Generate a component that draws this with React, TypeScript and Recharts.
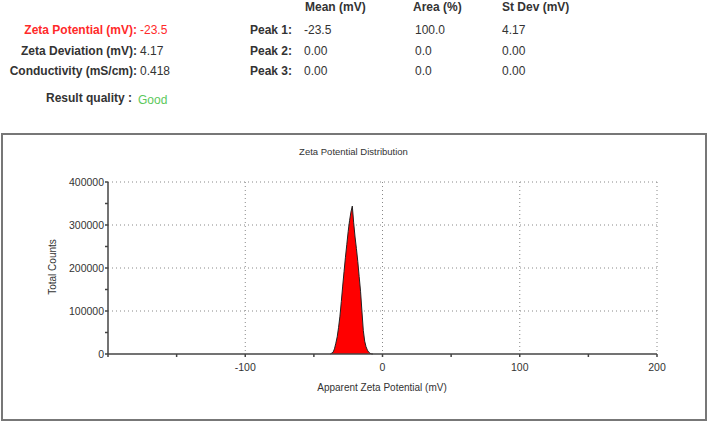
import React from 'react';
import { AreaChart, Area, XAxis, YAxis, CartesianGrid } from 'recharts';

// distribution of the single peak
const potentials = [-38, -36, -35, -34, -33, -32, -31, -30, -29, -28, -27, -26, -25, -24, -23, -22, -21, -20, -19, -18, -17, -16, -15, -14, -13, -12, -11, -10, -9, -8, -7];
const counts = [0, 4000, 12000, 25000, 40000, 62000, 88000, 122000, 158000, 192000, 225000, 255000, 285000, 310000, 330000, 344000, 305000, 272000, 245000, 215000, 180000, 146000, 100000, 55000, 30000, 17000, 9000, 4000, 1500, 300, 0];

const xTicks = [-200, -150, -100, -50, 0, 50, 100, 150, 200];
const xLabelled = [-100, 0, 100, 200];
const yTicks = [0, 50000, 100000, 150000, 200000, 250000, 300000, 350000, 400000];
const yLabelled = [0, 100000, 200000, 300000, 400000];

const summaryRows = [
  { label: 'Zeta Potential (mV):', value: '-23.5', color: '#ff2a2a' },
  { label: 'Zeta Deviation (mV):', value: '4.17', color: '#333' },
  { label: 'Conductivity (mS/cm):', value: '0.418', color: '#333' },
];
const peakNames = ['Peak 1:', 'Peak 2:', 'Peak 3:'];
const peakMeans = ['-23.5', '0.00', '0.00'];
const peakAreas = ['100.0', '0.0', '0.0'];
const peakStdevs = ['4.17', '0.00', '0.00'];

const data = potentials.map((p, i) => ({ p, c: counts[i] }));

const FONT = '"Liberation Sans", Arial, sans-serif';
const rowY = [30, 51, 71];

const txt = (s: React.CSSProperties): React.CSSProperties => ({
  position: 'absolute', fontFamily: FONT, fontSize: 12, lineHeight: '14px', whiteSpace: 'nowrap', ...s,
});

const App: React.FC = () => {
  return (
    <div style={{ position: 'absolute', left: 0, top: 0, width: 708, height: 422, background: '#fff', overflow: 'hidden' }}>
      {summaryRows.map((r, i) => (
        <React.Fragment key={r.label}>
          <div style={txt({ right: 708 - 137, top: rowY[i] - 7, fontWeight: 'bold', color: r.color })}>{r.label}</div>
          <div style={txt({ left: 140, top: rowY[i] - 7, color: r.color })}>{r.value}</div>
        </React.Fragment>
      ))}
      <div style={txt({ right: 708 - 132, top: 91, fontWeight: 'bold', color: '#333' })}>Result quality :</div>
      <div style={txt({ left: 138, top: 93, color: '#5cc85c' })}>Good</div>

      <div style={txt({ left: 305, top: 0, fontWeight: 'bold', color: '#333' })}>Mean (mV)</div>
      <div style={txt({ left: 413, top: 0, fontWeight: 'bold', color: '#333' })}>Area (%)</div>
      <div style={txt({ left: 502, top: 0, fontWeight: 'bold', color: '#333' })}>St Dev (mV)</div>
      {peakNames.map((n, i) => (
        <React.Fragment key={n}>
          <div style={txt({ left: 250, top: rowY[i] - 7, fontWeight: 'bold', color: '#333' })}>{n}</div>
          <div style={txt({ left: 304, top: rowY[i] - 7, color: '#333' })}>{peakMeans[i]}</div>
          <div style={txt({ left: 415, top: rowY[i] - 7, color: '#333' })}>{peakAreas[i]}</div>
          <div style={txt({ left: 502, top: rowY[i] - 7, color: '#333' })}>{peakStdevs[i]}</div>
        </React.Fragment>
      ))}

      {/* chart frame */}
      <div style={{ position: 'absolute', left: 1, top: 133, width: 706, height: 288, border: '2px solid #777', boxSizing: 'border-box' }} />
      <div style={txt({ left: 2, width: 703, top: 145, textAlign: 'center', fontSize: 9.5, color: '#333' })}>Zeta Potential Distribution</div>
      <div style={txt({ left: 382, top: 381, transform: 'translateX(-50%)', fontSize: 10, color: '#333' })}>Apparent Zeta Potential (mV)</div>
      <div style={txt({ left: 53, top: 267, transform: 'translate(-50%, -50%) rotate(-90deg)', fontSize: 10, color: '#333' })}>Total Counts</div>

      <div style={{ position: 'absolute', left: 0, top: 0 }}>
        <AreaChart width={708} height={422} data={data} margin={{ top: 182, right: 51, bottom: 58, left: 98 }}>
          <CartesianGrid
            stroke="#888"
            strokeDasharray="1 3"
            horizontalValues={[100000, 200000, 300000, 400000]}
            verticalValues={[-100, 0, 100, 200]}
          />
          <XAxis
            dataKey="p"
            type="number"
            domain={[-200, 200]}
            ticks={xTicks}
            tickFormatter={(v: number) => (xLabelled.includes(v) ? String(v) : '')}
            height={10}
            tickSize={3}
            tickMargin={7}
            axisLine={{ stroke: '#444', strokeWidth: 1.5 }}
            tickLine={{ stroke: '#444', strokeWidth: 1.5 }}
            tick={{ fontSize: 10.5, fill: '#333', fontFamily: FONT }}
            interval={0}
          />
          <YAxis
            type="number"
            domain={[0, 400000]}
            ticks={yTicks}
            tickFormatter={(v: number) => (yLabelled.includes(v) ? String(v) : '')}
            width={10}
            tickSize={3}
            tickMargin={1}
            axisLine={{ stroke: '#444', strokeWidth: 1.5 }}
            tickLine={{ stroke: '#444', strokeWidth: 1.5 }}
            tick={{ fontSize: 10.5, fill: '#333', fontFamily: FONT }}
            interval={0}
          />
          <Area type="linear" dataKey="c" stroke="#222" strokeWidth={1} fill="#ff0000" fillOpacity={1} isAnimationActive={false} />
        </AreaChart>
      </div>
    </div>
  );
};

export default App;
